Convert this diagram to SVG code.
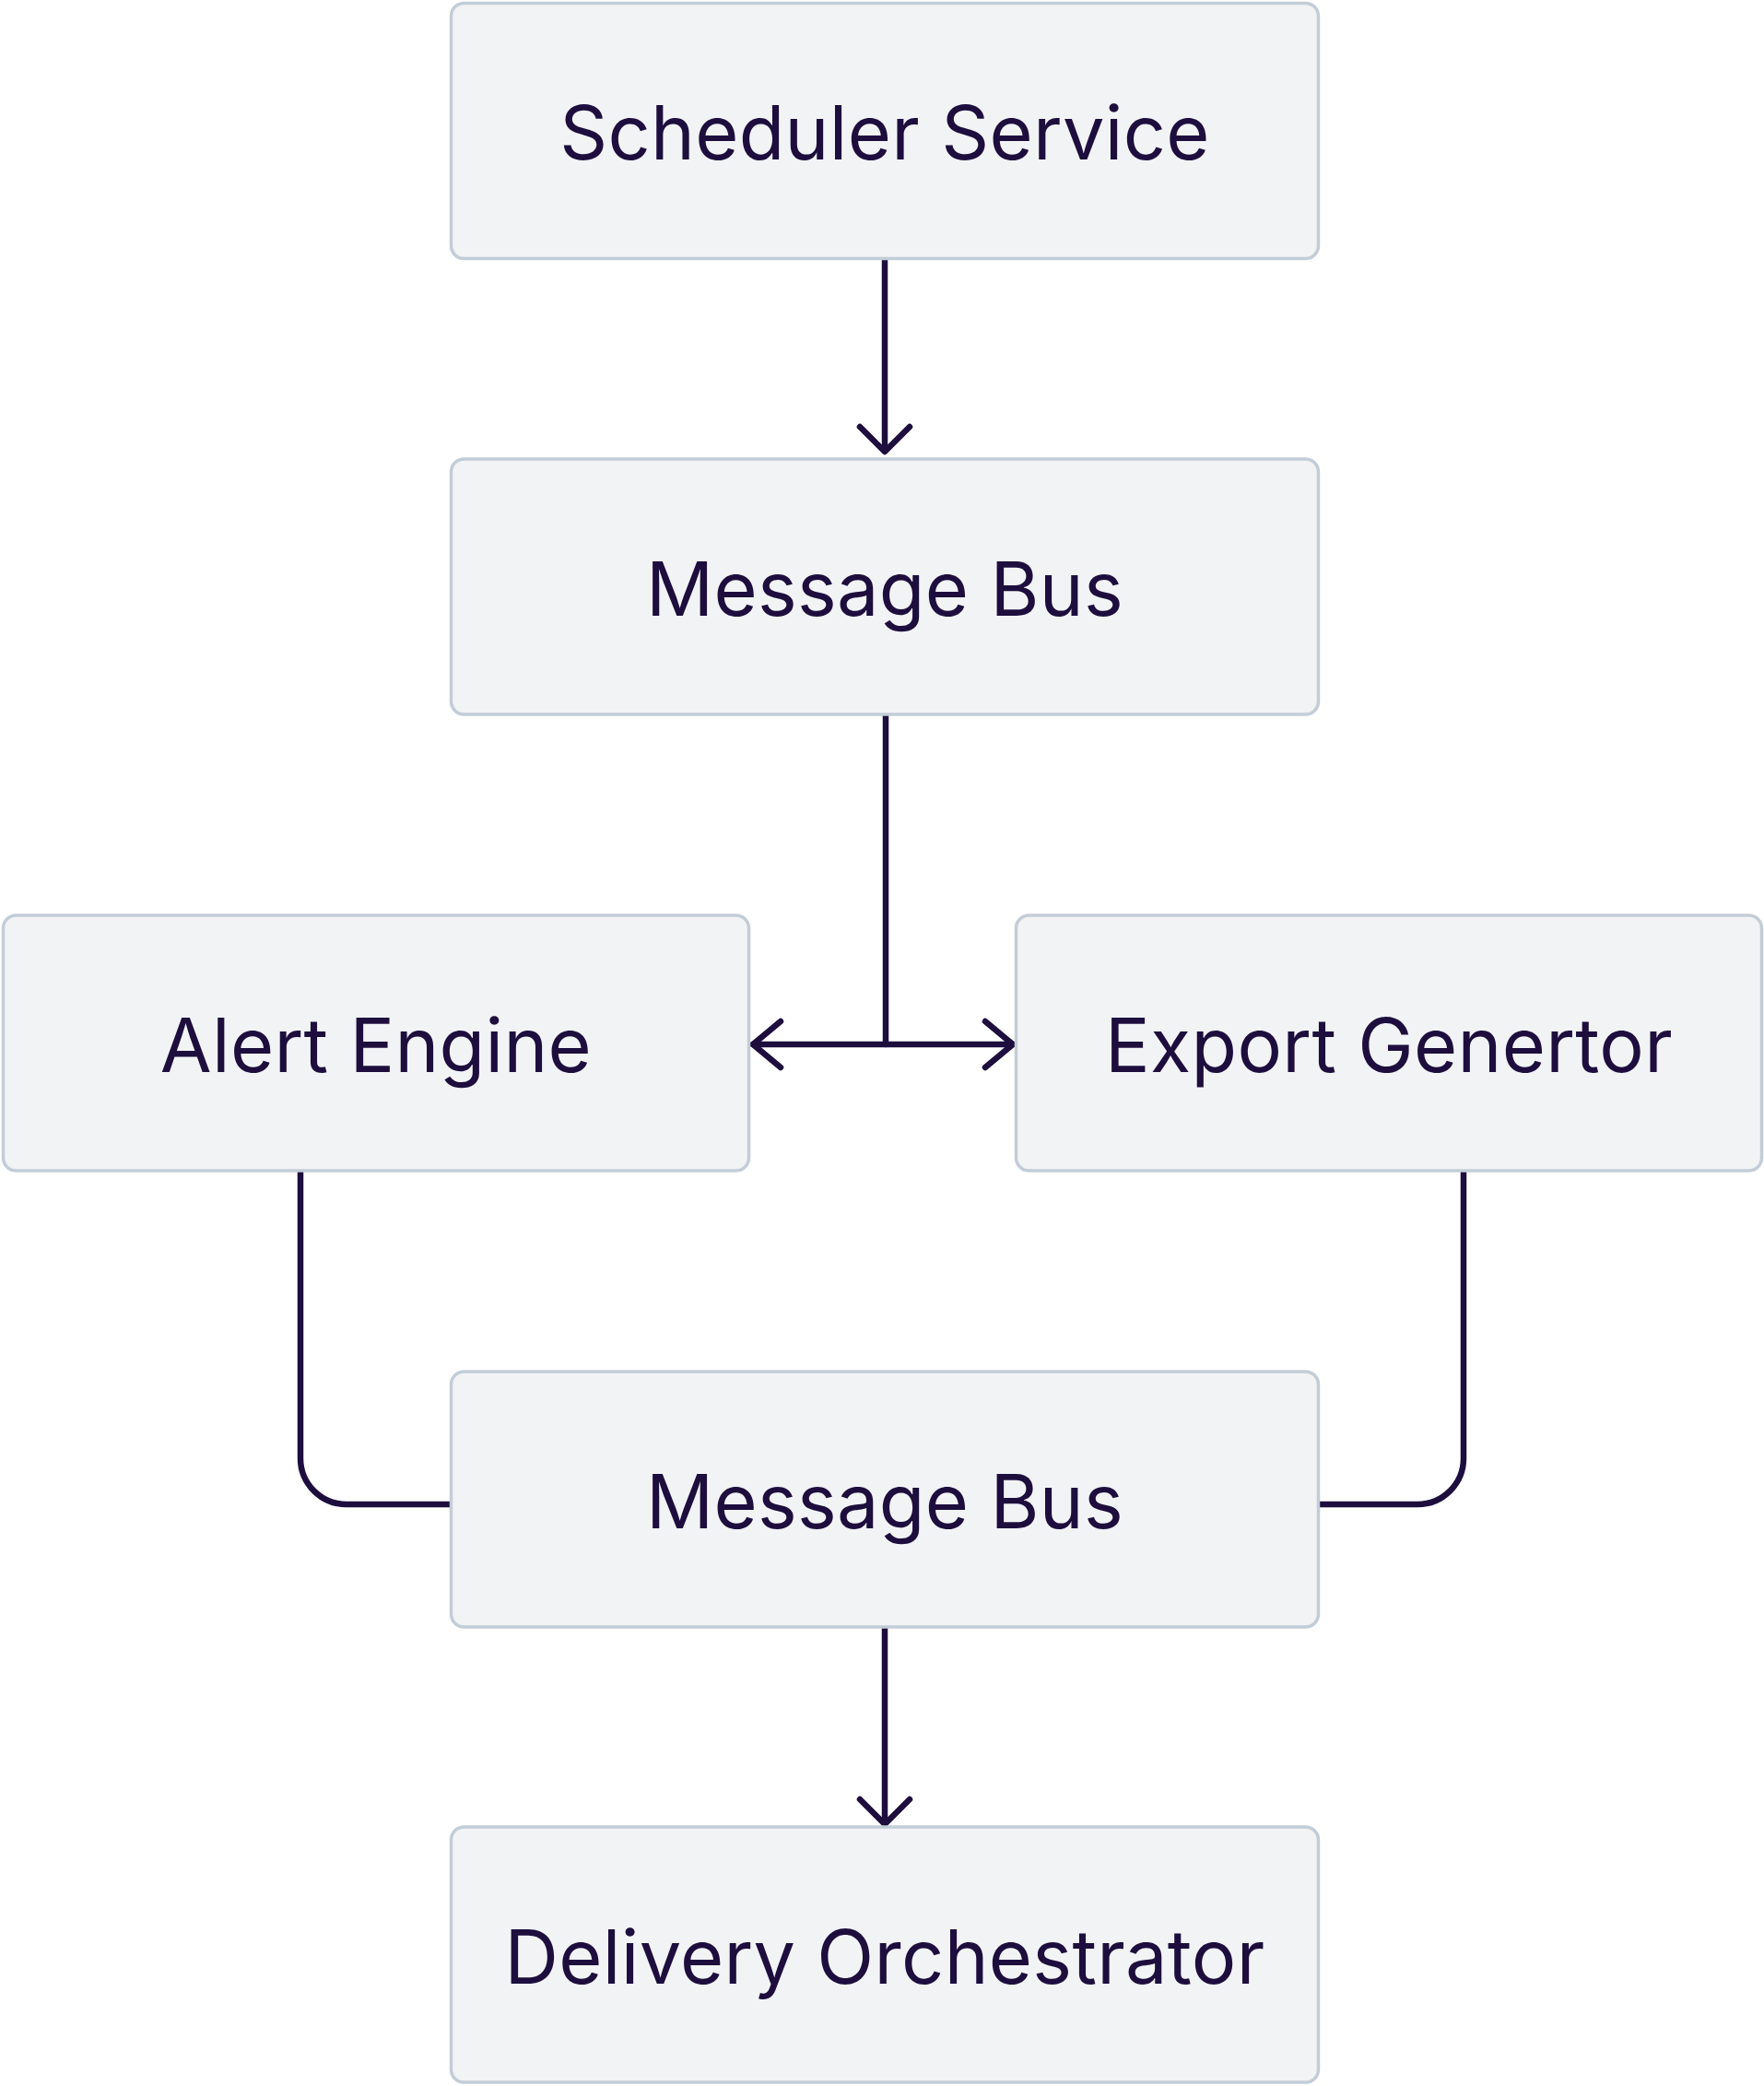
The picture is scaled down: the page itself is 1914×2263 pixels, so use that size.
<svg xmlns="http://www.w3.org/2000/svg" width="1914" height="2263" viewBox="0 0 1914 2263">
  <style>
    .box { fill: #f2f3f5; stroke: #c3cdd7; stroke-width: 3.5; }
    .lbl { font-family: Inter, "Noto Sans", "Liberation Sans", sans-serif; font-size: 81px; letter-spacing: 0.3px; fill: #1d0e3e; text-anchor: middle; }
    .edge { fill: none; stroke: #1d0e3e; stroke-width: 6.5; stroke-linecap: round; stroke-linejoin: round; }
  </style>
  <rect width="1914" height="2263" fill="#ffffff"/>
  <g id="connectors">
    <path class="edge" d="M960 282 V489"/>
    <path class="edge" d="M933 463 L960 490 L987 463"/>
    <path class="edge" d="M961 776 V1133"/>
    <path class="edge" d="M817 1133 H1099"/>
    <path class="edge" d="M847 1108 L817 1133 L847 1158"/>
    <path class="edge" d="M1069 1108 L1099 1133 L1069 1158"/>
    <path class="edge" d="M326 1272 V1582 A50 50 0 0 0 376 1632 H488"/>
    <path class="edge" d="M1588 1272 V1582 A50 50 0 0 1 1538 1632 H1432"/>
    <path class="edge" d="M960 1766 V1978"/>
    <path class="edge" d="M933 1952 L960 1979 L987 1952"/>
  </g>
  <g id="scheduler-service">
    <rect class="box" x="489.5" y="3.5" width="941" height="277" rx="14"/>
    <text class="lbl" x="960" y="173">Scheduler Service</text>
  </g>
  <g id="message-bus-1">
    <rect class="box" x="489.5" y="498" width="941" height="277" rx="14"/>
    <text class="lbl" x="960" y="668">Message Bus</text>
  </g>
  <g id="alert-engine">
    <rect class="box" x="3.5" y="993" width="809" height="277" rx="14"/>
    <text class="lbl" x="408" y="1163">Alert Engine</text>
  </g>
  <g id="export-generator">
    <rect class="box" x="1102.5" y="993" width="809" height="277" rx="14"/>
    <text class="lbl" x="1507" y="1163">Export Genertor</text>
  </g>
  <g id="message-bus-2">
    <rect class="box" x="489.5" y="1488" width="941" height="277" rx="14"/>
    <text class="lbl" x="960" y="1658">Message Bus</text>
  </g>
  <g id="delivery-orchestrator">
    <rect class="box" x="489.5" y="1982" width="941" height="277" rx="14"/>
    <text class="lbl" x="960" y="2152">Delivery Orchestrator</text>
  </g>
</svg>
